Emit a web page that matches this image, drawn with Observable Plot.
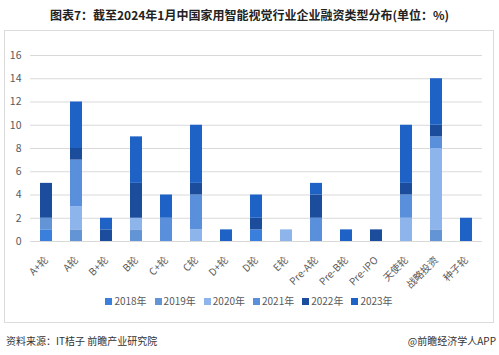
<!DOCTYPE html>
<html><head><meta charset="utf-8">
<script src="https://cdn.jsdelivr.net/npm/d3@7"></script>
<script src="https://cdn.jsdelivr.net/npm/@observablehq/plot@0.6"></script>
<style>
body{margin:0;background:#fff;font-family:"Noto Sans CJK SC","Noto Sans",sans-serif;}
#wrap{position:relative;width:499px;height:355px;overflow:hidden;}
#title{position:absolute;top:6px;left:0;width:499px;text-align:center;font-size:12px;font-weight:bold;color:#222;}
#box{position:absolute;top:30px;left:4px;width:488px;height:291px;border:1px solid #dcdcdc;}
#plot{position:absolute;top:1px;left:0;}
#legend{position:absolute;top:262px;left:0;width:488px;text-align:center;font-size:10px;color:#595959;}
#legend span.it{display:inline-block;margin:0 4px;}
#legend span.sw{display:inline-block;width:7px;height:7px;margin-right:2px;vertical-align:0px;}
#src{position:absolute;top:333px;left:6px;font-size:10px;color:#333;}
#app{position:absolute;top:333px;right:3px;font-size:10px;color:#333;}
</style></head>
<body><div id="wrap">
<div id="title">图表7：截至2024年1月中国家用智能视觉行业企业融资类型分布(单位：%)</div>
<div id="box"><div id="plot"></div><div id="legend"></div></div>
<div id="src">资料来源：IT桔子 前瞻产业研究院</div>
<div id="app">@前瞻经济学人APP</div>
</div>
<script>
const categories = ["A+轮","A轮","B+轮","B轮","C+轮","C轮","D+轮","D轮","E轮","Pre-A轮","Pre-B轮","Pre-IPO","天使轮","战略投资","种子轮"];
const years = ["2018年","2019年","2020年","2021年","2022年","2023年"];
const v2018 = [1,0,0,0,0,0,0,1,0,0,0,0,0,0,0];
const v2019 = [1,1,0,1,0,0,0,0,0,0,0,0,0,1,0];
const v2020 = [0,2,0,1,0,1,0,0,1,0,0,0,2,7,0];
const v2021 = [0,4,0,0,2,3,0,0,0,2,0,0,2,1,0];
const v2022 = [3,1,1,3,0,1,0,1,0,2,0,1,1,1,0];
const v2023 = [0,4,1,4,2,5,1,2,0,1,1,0,5,4,2];
const yTicks = [0,2,4,6,8,10,12,14,16];
const colors = ["#3a7fdb","#6394d6","#8eb4ec","#5a8fdc","#1b4d9c","#1e62c6"];

const series = [v2018,v2019,v2020,v2021,v2022,v2023];
const data = [];
series.forEach((vals, i) => vals.forEach((v, j) => { if (v > 0) data.push({cat: categories[j], year: years[i], value: v}); }));

const chart = Plot.plot({
  width: 488, height: 260,
  marginLeft: 25, marginRight: 11, marginTop: 23, marginBottom: 51,
  style: {fontFamily: '"Noto Sans CJK SC","Noto Sans",sans-serif', fontSize: "10px", color: "#595959", background: "transparent"},
  x: {domain: categories, padding: 0.6, paddingOuter: 0.3, label: null},
  y: {domain: [0,16], ticks: yTicks, label: null},
  color: {domain: years, range: colors},
  marks: [
    Plot.gridY(yTicks, {stroke: "#d9d9d9", strokeOpacity: 1}),
    Plot.barY(data, {x: "cat", y: "value", fill: "year", order: years}),
    Plot.axisY(yTicks, {tickSize: 0, tickPadding: 9, fill: "#595959", fontSize: 10.5}),
    Plot.axisX({tickSize: 0, tickRotate: -45, tickPadding: 17, fill: "#595959", fontSize: 10})
  ]
});
document.getElementById("plot").appendChild(chart);

const lg = document.getElementById("legend");
years.forEach((y, i) => {
  const it = document.createElement("span"); it.className = "it";
  const sw = document.createElement("span"); sw.className = "sw"; sw.style.background = colors[i];
  it.appendChild(sw); it.appendChild(document.createTextNode(y));
  lg.appendChild(it);
});
</script>
</body></html>
